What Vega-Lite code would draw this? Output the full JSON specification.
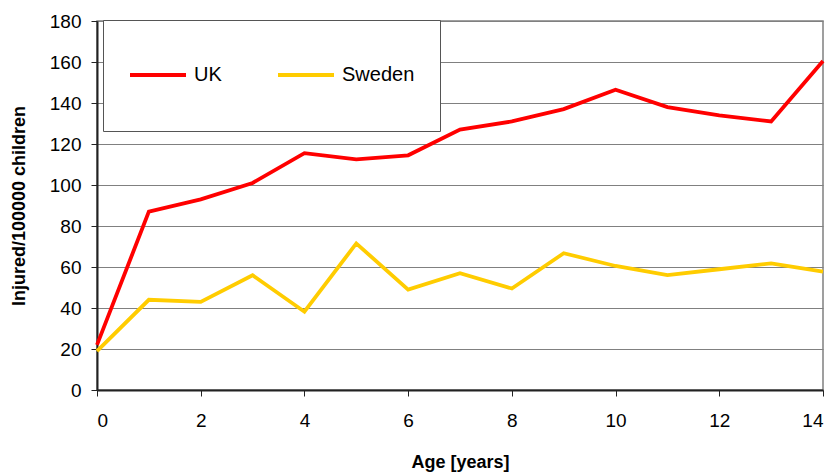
{
  "$schema": "https://vega.github.io/schema/vega-lite/v6.json",
  "width": 726,
  "height": 369,
  "autosize": {"type": "none"},
  "padding": {"left": 97, "top": 21, "right": 12, "bottom": 86},
  "background": "white",
  "config": {
    "font": "Liberation Sans",
    "view": {"stroke": "#808080", "strokeWidth": 1.5}
  },
  "data": {
    "values": [
      {"age": 0, "country": "UK", "rate": 22},
      {"age": 1, "country": "UK", "rate": 87},
      {"age": 2, "country": "UK", "rate": 93},
      {"age": 3, "country": "UK", "rate": 101},
      {"age": 4, "country": "UK", "rate": 115.5},
      {"age": 5, "country": "UK", "rate": 112.5},
      {"age": 6, "country": "UK", "rate": 114.5},
      {"age": 7, "country": "UK", "rate": 127},
      {"age": 8, "country": "UK", "rate": 131},
      {"age": 9, "country": "UK", "rate": 137},
      {"age": 10, "country": "UK", "rate": 146.5},
      {"age": 11, "country": "UK", "rate": 138},
      {"age": 12, "country": "UK", "rate": 134},
      {"age": 13, "country": "UK", "rate": 131},
      {"age": 14, "country": "UK", "rate": 160.5},
      {"age": 0, "country": "Sweden", "rate": 19},
      {"age": 1, "country": "Sweden", "rate": 44},
      {"age": 2, "country": "Sweden", "rate": 43},
      {"age": 3, "country": "Sweden", "rate": 56},
      {"age": 4, "country": "Sweden", "rate": 38.2},
      {"age": 5, "country": "Sweden", "rate": 71.5},
      {"age": 6, "country": "Sweden", "rate": 49},
      {"age": 7, "country": "Sweden", "rate": 57},
      {"age": 8, "country": "Sweden", "rate": 49.5},
      {"age": 9, "country": "Sweden", "rate": 66.7},
      {"age": 10, "country": "Sweden", "rate": 60.5},
      {"age": 11, "country": "Sweden", "rate": 56},
      {"age": 12, "country": "Sweden", "rate": 58.9},
      {"age": 13, "country": "Sweden", "rate": 61.8},
      {"age": 14, "country": "Sweden", "rate": 57.7}
    ]
  },
  "mark": {"type": "line", "strokeWidth": 3.8, "strokeJoin": "miter"},
  "encoding": {
    "x": {
      "field": "age",
      "type": "quantitative",
      "scale": {"domain": [0, 14], "nice": false, "zero": false},
      "axis": {
        "title": "Age [years]",
        "values": [0, 2, 4, 6, 8, 10, 12, 14],
        "grid": false,
        "domainColor": "#222222",
        "domainWidth": 2,
        "tickColor": "#222222",
        "tickSize": 6,
        "labelFontSize": 19,
        "labelColor": "black",
        "labelPadding": 15,
        "titleFontSize": 18,
        "titleFontWeight": "bold",
        "titleColor": "black",
        "titlePadding": 23
      }
    },
    "y": {
      "field": "rate",
      "type": "quantitative",
      "scale": {"domain": [0, 180], "nice": false},
      "axis": {
        "title": "Injured/100000 children",
        "values": [0, 20, 40, 60, 80, 100, 120, 140, 160, 180],
        "grid": true,
        "gridColor": "#808080",
        "gridWidth": 1.2,
        "gridOpacity": 1,
        "domainColor": "#222222",
        "domainWidth": 2,
        "tickColor": "#222222",
        "tickSize": 6,
        "labelFontSize": 19,
        "labelColor": "black",
        "labelPadding": 10,
        "titleFontSize": 18,
        "titleFontWeight": "bold",
        "titleColor": "black",
        "titlePadding": 21
      }
    },
    "color": {
      "field": "country",
      "type": "nominal",
      "scale": {"domain": ["UK", "Sweden"], "range": ["#FF0000", "#FFCC00"]},
      "legend": {
        "title": " ",
        "titleOrient": "bottom",
        "titleFontSize": 12,
        "titlePadding": 10,
        "orient": "none",
        "legendX": 6,
        "legendY": -1,
        "direction": "horizontal",
        "fillColor": "white",
        "strokeColor": "#555555",
        "padding": 25,
        "symbolType": "stroke",
        "symbolSize": 3136,
        "symbolStrokeWidth": 3.8,
        "labelFontSize": 20,
        "labelColor": "black",
        "labelOffset": 6,
        "columnPadding": 48
      }
    }
  }
}
